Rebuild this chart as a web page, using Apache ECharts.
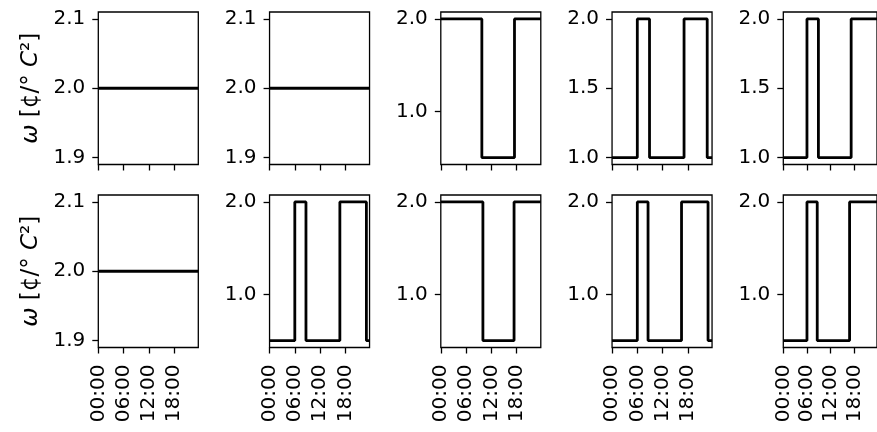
<!DOCTYPE html>
<html>
<head>
<meta charset="utf-8">
<script src="https://cdn.jsdelivr.net/npm/echarts@6/dist/echarts.min.js"></script>
<style>
  html, body { margin: 0; background: #fff; }
  #chart { width: 877px; height: 432px; }
</style>
</head>
<body>
<div id="chart"></div>
<script>
  // x axis: hours of the day
  var timeTicks = [0, 6, 12, 18];
  var timeLabels = ["00:00", "06:00", "12:00", "18:00"];
  var dayEnd = 23.75;

  // step change points [hour, ω] for each panel (row, column)
  var w11 = [[0, 2.0], [23.75, 2.0]];
  var w12 = [[0, 2.0], [23.75, 2.0]];
  var w13 = [[0, 2.0], [9.75, 0.5], [17.5, 2.0], [23.75, 2.0]];
  var w14 = [[0, 1.0], [6.0, 2.0], [8.9, 1.0], [17.1, 2.0], [22.6, 1.0], [23.75, 1.0]];
  var w15 = [[0, 1.0], [6.0, 2.0], [8.9, 1.0], [17.2, 2.0], [23.75, 2.0]];
  var w21 = [[0, 2.0], [23.75, 2.0]];
  var w22 = [[0, 0.5], [6.0, 2.0], [8.65, 0.5], [16.7, 2.0], [23.0, 0.5], [23.75, 0.5]];
  var w23 = [[0, 2.0], [10.0, 0.5], [17.4, 2.0], [23.75, 2.0]];
  var w24 = [[0, 0.5], [6.0, 2.0], [8.55, 0.5], [16.5, 2.0], [22.8, 0.5], [23.75, 0.5]];
  var w25 = [[0, 0.5], [6.0, 2.0], [8.6, 0.5], [16.8, 2.0], [23.75, 2.0]];

  // y tick values per panel
  var ticksFlat = [1.9, 2.0, 2.1];
  var ticksHalf = [1.0, 1.5, 2.0];
  var ticksOne = [1.0, 2.0];

  var panelData = [w11, w12, w13, w14, w15, w21, w22, w23, w24, w25];
  var panelTicks = [ticksFlat, ticksFlat, ticksOne, ticksHalf, ticksHalf,
                    ticksFlat, ticksOne, ticksOne, ticksOne, ticksOne];

  var myChart = echarts.init(document.getElementById("chart"));
  var font = "DejaVu Sans";

  // matplotlib-like limits: 5% margin, expand flat data
  function limits(data) {
    var vals = data.map(function (d) { return d[1]; });
    var lo = Math.min.apply(null, vals), hi = Math.max.apply(null, vals);
    if (lo === hi) { lo -= 0.05 * Math.abs(lo); hi += 0.05 * Math.abs(hi); }
    var pad = 0.05 * (hi - lo);
    return [lo - pad, hi + pad];
  }

  var grids = [], xAxes = [], yAxes = [], series = [];
  panelData.forEach(function (data, i) {
    var row = Math.floor(i / 5), col = i % 5;
    var lim = limits(data);
    grids.push({
      left: 98.3 + col * 171.25,
      top: row === 0 ? 12 : 195,
      width: 100,
      height: 152.5,
      show: true,
      borderColor: "#000",
      borderWidth: 1.3,
      backgroundColor: "transparent"
    });
    xAxes.push({
      type: "value",
      gridIndex: i,
      min: 0,
      max: dayEnd,
      splitLine: { show: false },
      axisLine: { show: false },
      axisTick: { show: true, customValues: timeTicks, length: 6, lineStyle: { color: "#000", width: 1.3 } },
      axisLabel: {
        show: row === 1,
        customValues: timeTicks,
        rotate: 90,
        margin: 17,
        color: "#000",
        fontSize: 20,
        fontFamily: font,
        formatter: function (v) { return timeLabels[timeTicks.indexOf(v)]; }
      }
    });
    var y = {
      type: "value",
      gridIndex: i,
      min: lim[0],
      max: lim[1],
      splitLine: { show: false },
      axisLine: { show: false },
      axisTick: { show: true, customValues: panelTicks[i], length: 6, lineStyle: { color: "#000", width: 1.3 } },
      axisLabel: {
        customValues: panelTicks[i],
        margin: 13,
        color: "#000",
        fontSize: 20,
        fontFamily: font,
        formatter: function (v) { return v.toFixed(1); }
      }
    };
    if (col === 0) {
      y.name = "{it|ω} [¢/° {it|C}²]";
      y.nameLocation = "middle";
      y.nameRotate = 90;
      y.nameGap = 56;
      y.nameTextStyle = {
        color: "#000",
        fontSize: 23,
        fontFamily: font,
        rich: { it: { fontStyle: "italic", fontSize: 23, fontFamily: font, color: "#000" } }
      };
    }
    yAxes.push(y);
    series.push({
      type: "line",
      xAxisIndex: i,
      yAxisIndex: i,
      step: "end",
      data: data,
      showSymbol: false,
      lineStyle: { color: "#000", width: 2.8 }
    });
  });

  myChart.setOption({
    animation: false,
    grid: grids,
    xAxis: xAxes,
    yAxis: yAxes,
    series: series
  });
  window.addEventListener("resize", function () {
    myChart.resize();
  });
</script>
</body>
</html>
